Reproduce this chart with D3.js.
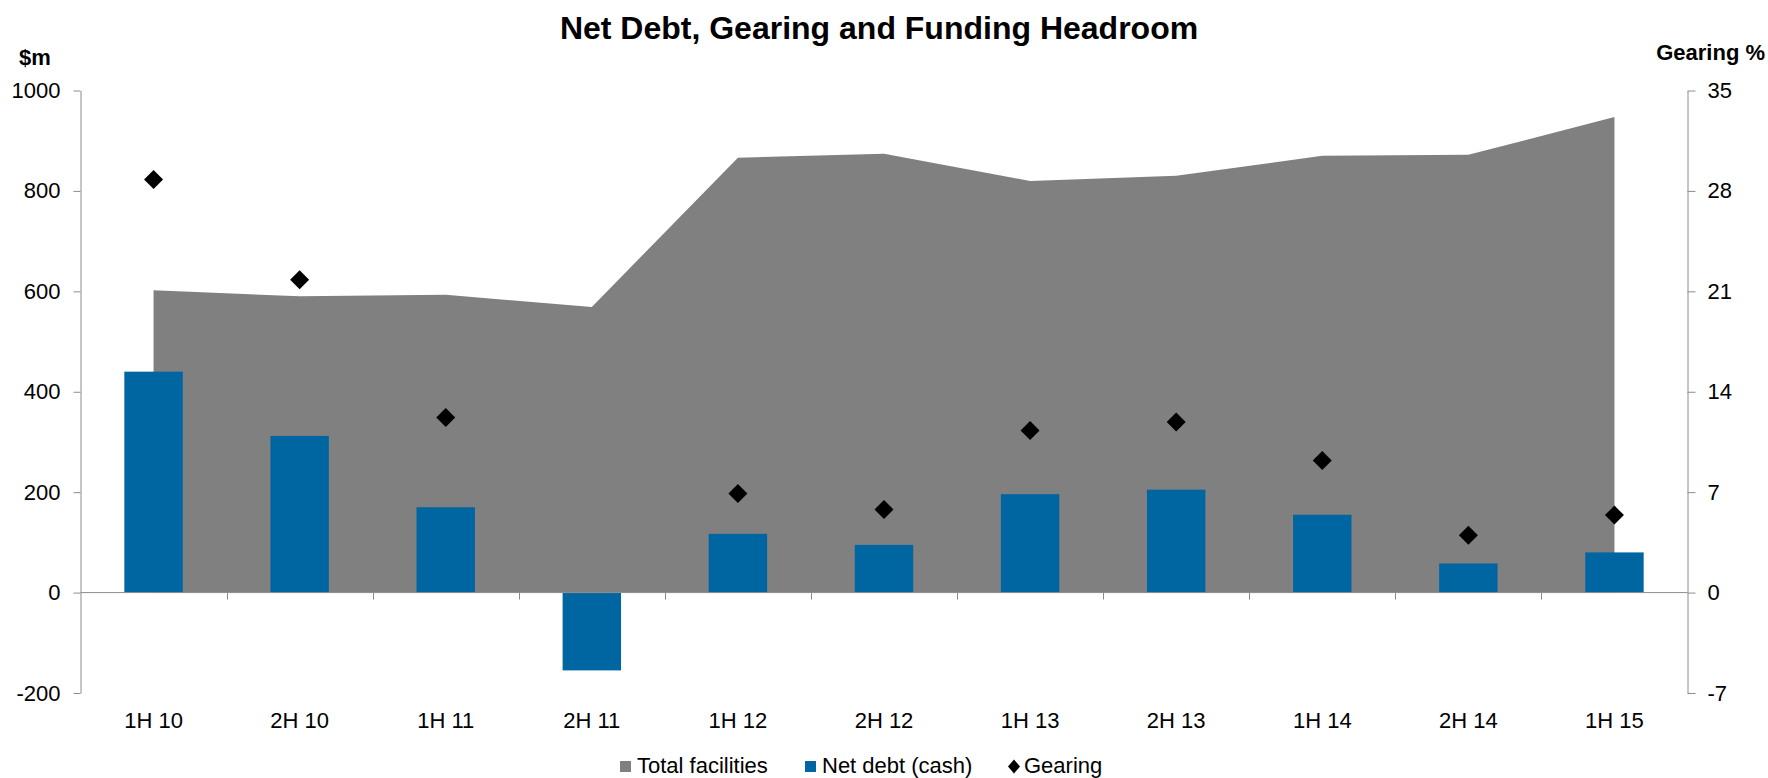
<!DOCTYPE html>
<html>
<head>
<meta charset="utf-8">
<script src="https://cdn.jsdelivr.net/npm/d3@7"></script>
<style>
  body { margin: 0; background: #fff; }
  svg { display: block; font-family: "Liberation Sans", Arial, sans-serif; }
</style>
</head>
<body>
<svg id="chart" width="1768" height="778"></svg>
<script>
// chart data
var periods = ['1H 10', '2H 10', '1H 11', '2H 11', '1H 12', '2H 12', '1H 13', '2H 13', '1H 14', '2H 14', '1H 15'];
var facilities = [602, 590, 593, 569, 866, 874, 820, 830, 870, 872, 947];
var netDebt = [440, 312, 170, -155, 117, 95, 196, 205, 155, 58, 80];
var gearing = [28.8, 21.8, 12.2, null, 6.9, 5.8, 11.3, 11.9, 9.2, 4.0, 5.4];
var leftTicks = [-200, 0, 200, 400, 600, 800, 1000];
var rightTicks = [-7, 0, 7, 14, 21, 28, 35];

var gray = '#808080';
var blue = '#0066a1';
var axisCol = '#8c8c8c';

var svg = d3.select('#chart');

var x = d3.scaleBand().domain(periods).range([80.5, 1687.5]).padding(0);
var yL = d3.scaleLinear().domain([-200, 1000]).range([693, 90.5]);
var yR = d3.scaleLinear().domain([-7, 35]).range([693, 90.5]);
var cx = function(i) { return x(periods[i]) + x.bandwidth() / 2; };
var plain = function(d) { return String(d); }; // keep hyphen minus, no thousands comma

// total facilities area
var area = d3.area()
  .x(function(d, i) { return cx(i); })
  .y0(yL(0))
  .y1(function(d) { return yL(d); });

svg.append('path')
  .datum(facilities)
  .attr('d', area)
  .attr('fill', gray);

// net debt bars
var bw = x.bandwidth() * 0.4;
svg.selectAll('rect.bar')
  .data(netDebt)
  .enter().append('rect')
    .attr('class', 'bar')
    .attr('x', function(d, i) { return cx(i) - bw / 2; })
    .attr('y', function(d) { return yL(Math.max(0, d)); })
    .attr('width', bw)
    .attr('height', function(d) { return Math.abs(yL(d) - yL(0)); })
    .attr('fill', blue);

// zero line + category ticks
svg.append('line')
  .attr('x1', x.range()[0]).attr('x2', x.range()[1])
  .attr('y1', yL(0)).attr('y2', yL(0))
  .attr('stroke', axisCol).attr('stroke-width', 1);

svg.selectAll('line.ctick')
  .data(periods.slice(1))
  .enter().append('line')
    .attr('class', 'ctick')
    .attr('x1', function(d) { return Math.round(x(d)) + 0.5; })
    .attr('x2', function(d) { return Math.round(x(d)) + 0.5; })
    .attr('y1', yL(0)).attr('y2', yL(0) + 7)
    .attr('stroke', axisCol);

// gearing diamonds
var diamond = 'M0,-9.5L9.5,0L0,9.5L-9.5,0Z';
var gearPts = [];
gearing.forEach(function(g, i) { if (g != null) gearPts.push({i: i, v: g}); });

svg.selectAll('path.gear')
  .data(gearPts)
  .enter().append('path')
    .attr('class', 'gear')
    .attr('d', diamond)
    .attr('transform', function(d) { return 'translate(' + cx(d.i) + ',' + yR(d.v) + ')'; })
    .attr('fill', '#000');

// axes
function styleAxis(g) {
  g.select('.domain').attr('stroke', axisCol);
  g.selectAll('.tick line').attr('stroke', axisCol);
  g.selectAll('.tick text').attr('fill', '#000').style('font-size', '22px')
    .style('font-family', '"Liberation Sans", Arial, sans-serif');
}

svg.append('g')
  .attr('transform', 'translate(80.5,0)')
  .call(d3.axisLeft(yL).tickValues(leftTicks).tickFormat(plain)
    .tickSize(7).tickSizeOuter(0).tickPadding(13))
  .call(styleAxis);

svg.append('g')
  .attr('transform', 'translate(1687.5,0)')
  .call(d3.axisRight(yR).tickValues(rightTicks).tickFormat(plain)
    .tickSize(8).tickSizeOuter(0).tickPadding(12))
  .call(styleAxis);

var xAxis = svg.append('g')
  .attr('transform', 'translate(0,693)')
  .call(d3.axisBottom(x).tickSize(0).tickPadding(19))
  .call(styleAxis);
xAxis.select('.domain').remove();

// titles
svg.append('text')
  .attr('x', 879).attr('y', 39)
  .attr('text-anchor', 'middle')
  .style('font-size', '32px').style('font-weight', 'bold')
  .text('Net Debt, Gearing and Funding Headroom');

svg.append('text')
  .attr('x', 19).attr('y', 65)
  .style('font-size', '22px').style('font-weight', 'bold')
  .text('$m');

svg.append('text')
  .attr('x', 1765).attr('y', 60)
  .attr('text-anchor', 'end')
  .style('font-size', '22px').style('font-weight', 'bold')
  .text('Gearing %');

// legend
var legend = [
  {label: 'Total facilities', color: gray, shape: 'square', x: 620},
  {label: 'Net debt (cash)', color: blue, shape: 'square', x: 805},
  {label: 'Gearing', color: '#000', shape: 'diamond', x: 1008}
];

var lg = svg.selectAll('g.leg')
  .data(legend)
  .enter().append('g')
    .attr('class', 'leg')
    .attr('transform', function(d) { return 'translate(' + d.x + ',0)'; });

lg.filter(function(d) { return d.shape === 'square'; })
  .append('rect')
    .attr('x', 0).attr('y', 761)
    .attr('width', 11).attr('height', 11)
    .attr('fill', function(d) { return d.color; });

lg.filter(function(d) { return d.shape === 'diamond'; })
  .append('path')
    .attr('d', 'M6,759.5L12,766.5L6,773.5L0,766.5Z')
    .attr('fill', '#000');

lg.append('text')
  .attr('x', function(d) { return d.shape === 'square' ? 17 : 16; })
  .attr('y', 773)
  .style('font-size', '22px')
  .text(function(d) { return d.label; });
</script>
</body>
</html>
